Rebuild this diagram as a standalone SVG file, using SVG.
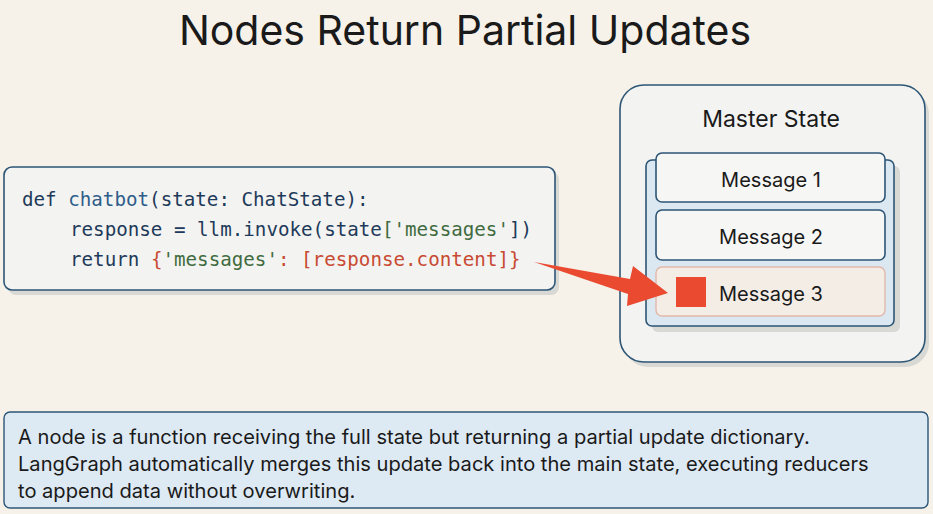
<svg xmlns="http://www.w3.org/2000/svg" width="933" height="514" viewBox="0 0 933 514">
<defs>
<style>
.t{font-family:Inter,"Liberation Sans",sans-serif;fill:#1a1a1a}
.c{font-family:"DejaVu Sans Mono","Liberation Mono",monospace;font-size:19.2px;fill:#1e3a5a}
.s{fill:#3f6b3f}.r{fill:#c84a32}
.box{stroke:#2d5575;stroke-width:1.6}
.sh{fill:#d8d8d4}
</style>
</defs>
<rect width="933" height="514" fill="#f6f2ea"/>
<text class="t" x="465" y="45" font-size="41" text-anchor="middle">Nodes Return Partial Updates</text>
<g id="code">
<rect class="sh" x="8" y="172" width="551" height="123" rx="8"/>
<rect class="box" x="4" y="167" width="551" height="123" rx="8" fill="#f3f3f1"/>
<text class="c" x="22" y="206">def <tspan fill="#2e5d8a">chatbot</tspan>(state: ChatState):</text>
<text class="c" x="70" y="236">response = llm.invoke(state<tspan class="s">['messages'</tspan>])</text>
<text class="c" x="70" y="266">return <tspan class="r">{</tspan><tspan class="s">'messages'</tspan><tspan class="r">: [response.content]}</tspan></text>
</g>
<g id="master">
<rect class="sh" x="624" y="90" width="305" height="277" rx="24"/>
<rect class="box" x="620" y="85" width="305" height="277" rx="24" fill="#f3f3f1"/>
<text class="t" x="771" y="127" font-size="23" text-anchor="middle">Master State</text>
<rect class="sh" x="652" y="166" width="248" height="166" rx="6"/>
<rect class="box" x="646" y="160" width="248" height="166" rx="6" fill="#dbe7f1"/>
</g>
<g id="m1"><rect class="box" x="656" y="153" width="229" height="49" rx="6" fill="#f6f6f4"/>
<text class="t" x="771" y="187" font-size="20" text-anchor="middle">Message 1</text></g>
<g id="m2"><rect class="box" x="656" y="210" width="229" height="50" rx="6" fill="#f6f6f4"/>
<text class="t" x="771" y="244" font-size="20" text-anchor="middle">Message 2</text></g>
<g id="m3"><rect x="656" y="267" width="229" height="49" rx="6" fill="#f4ede6" stroke="#e2b8aa" stroke-width="1.4"/>
<rect x="676" y="277" width="30" height="30" fill="#ea4a30"/>
<text class="t" x="771" y="301" font-size="20" text-anchor="middle">Message 3</text></g>
<g id="connectors">
<path d="M534,262 L630,279 L633,266 L668,293 L627,306 L628,294 Z" fill="#ea4a30"/>
</g>
<g id="note">
<rect x="4" y="412" width="924" height="96" rx="6" fill="#dde9f3" stroke="#2d5575" stroke-width="1.4"/>
<text class="t" font-size="20.1"><tspan x="18" y="444">A node is a function receiving the full state but returning a partial update dictionary.</tspan><tspan x="18" y="471">LangGraph automatically merges this update back into the main state, executing reducers</tspan><tspan x="18" y="498">to append data without overwriting.</tspan></text>
</g>
</svg>
